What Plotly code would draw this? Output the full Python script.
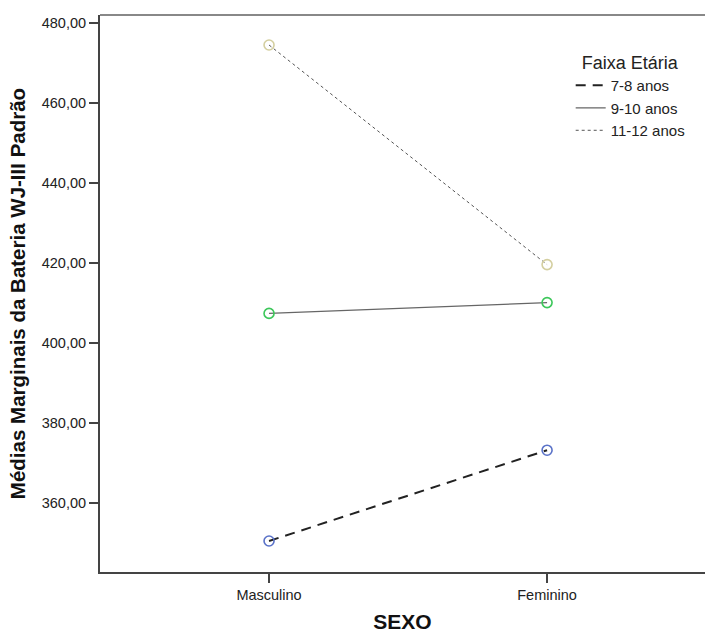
import plotly.graph_objects as go

categories = ["Masculino", "Feminino"]
series_names = ["7-8 anos", "9-10 anos", "11-12 anos"]
values_7_8 = [350.5, 373.2]
values_9_10 = [407.4, 410.1]
values_11_12 = [474.5, 419.6]
y_ticks = [360, 380, 400, 420, 440, 460, 480]

all_values = [values_7_8, values_9_10, values_11_12]
marker_colors = ["#5A72C8", "#3CC75A", "#D4CFA0"]
line_colors = ["#222222", "#666666", "#555555"]
line_widths = [2, 1.2, 1]
line_dashes = ["10px,7px", "solid", "3px,3px"]

FONT = "Arial, Liberation Sans, Helvetica, sans-serif"

fig = go.Figure()
for name, vals, mc, lc, lw, dash in zip(series_names, all_values, marker_colors,
                                        line_colors, line_widths, line_dashes):
    fig.add_trace(go.Scatter(
        x=categories, y=vals, mode="lines+markers", name=name,
        line=dict(color=lc, width=lw, dash=dash),
        marker=dict(symbol="circle-open", size=10, color=mc, line=dict(width=1.6, color=mc)),
        showlegend=False,
    ))
    fig.add_trace(go.Scatter(
        x=[None], y=[None], mode="lines", name=name,
        line=dict(color=lc, width=lw, dash=dash),
        showlegend=True,
    ))

fig.update_layout(
    width=705, height=633,
    autosize=False,
    margin=dict(l=100, r=0, t=15, b=61, autoexpand=False),
    paper_bgcolor="white", plot_bgcolor="white",
    separators=",.",
    font=dict(family=FONT, size=14, color="#222222"),
    legend=dict(
        x=0.778, y=0.945, xanchor="left", yanchor="top",
        title=dict(text="Faixa Etária", side="top center",
                   font=dict(size=18, family=FONT, color="#222")),
        font=dict(size=15, family=FONT, color="#222"),
        bgcolor="rgba(0,0,0,0)", itemwidth=30, tracegroupgap=0,
    ),
    xaxis=dict(
        type="category", categoryorder="array", categoryarray=categories,
        range=[-0.608, 1.568],
        showgrid=False, zeroline=False,
        showline=True, linecolor="#444444", linewidth=2,
        ticks="outside", ticklen=9, tickcolor="#444444", tickwidth=1.5,
        tickfont=dict(size=14.5, family=FONT, color="#222"),
        title=dict(text="<b>SEXO</b>", font=dict(size=21, family=FONT, color="#111"), standoff=12),
        automargin=False,
    ),
    yaxis=dict(
        range=[342.75, 482],
        tickvals=y_ticks, tickformat=".2f",
        showgrid=False, zeroline=False,
        showline=True, linecolor="#444444", linewidth=2,
        ticks="outside", ticklen=9, tickcolor="#444444", tickwidth=1.5,
        tickfont=dict(size=14.5, family=FONT, color="#222"),
        title=dict(text="<b>Médias Marginais da Bateria WJ-III Padrão</b>",
                   font=dict(size=20.5, family=FONT, color="#111"), standoff=11),
        automargin=False,
    ),
    shapes=[dict(type="line", xref="paper", yref="paper", x0=0, x1=1, y0=1, y1=1,
                 line=dict(color="#888888", width=2))],
)

fig.write_html(
    "out.html",
    config={"displayModeBar": False},
    post_script=(
        "document.body.style.margin='0';document.body.style.padding='0';"
        "document.body.style.overflow='hidden';"
        "document.documentElement.style.overflow='hidden';"
    ),
)
